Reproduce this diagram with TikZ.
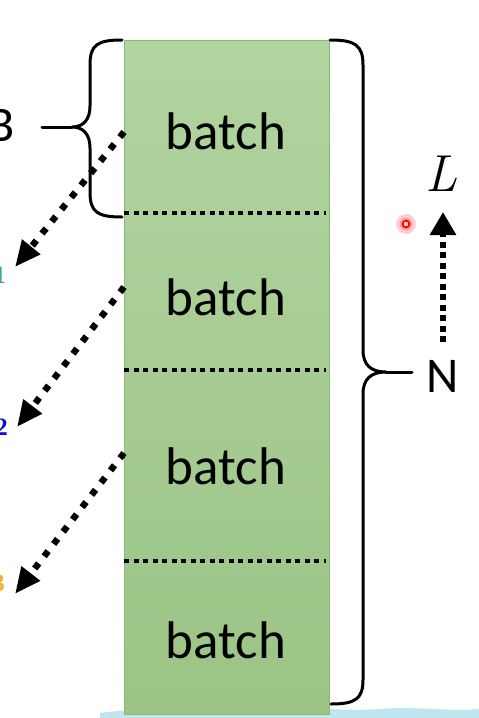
\documentclass[tikz,border=0pt]{standalone}
\usepackage{fontspec}
\newfontfamily\calib{Carlito}
\newfontfamily\serifdig{Liberation Serif}
\usetikzlibrary{arrows.meta}
\definecolor{gtop}{HTML}{B2D4A0}
\definecolor{gbot}{HTML}{9BC486}
\definecolor{gedge}{HTML}{8DBA76}
\definecolor{subone}{HTML}{3FA69A}
\definecolor{subtwo}{HTML}{1010D0}
\definecolor{subthree}{HTML}{F0B432}
\definecolor{wave}{HTML}{BFE6EE}
\tikzset{
  brace/.style={line width=3pt, line cap=round, line join=round},
  divider/.style={line width=4.5pt, dash pattern=on 5pt off 4.5pt},
  dotarrow/.style={line width=6.5pt, dash pattern=on 6.5pt off 9pt, -{Triangle[length=26pt,width=22pt]}},
  uparrow/.style={line width=6.5pt, dash pattern=on 6pt off 4.5pt, -{Triangle[length=23pt,width=25pt]}},
  batchtext/.style={font=\calib\fontsize{53}{60}\selectfont, inner sep=0pt},
  bigtext/.style={font=\calib\fontsize{50}{60}\selectfont, inner sep=0pt},
  subdig/.style={font=\serifdig\bfseries\fontsize{25}{30}\selectfont, inner sep=0pt, anchor=base east},
}
\begin{document}
\begin{tikzpicture}[x=1pt,y=-1pt]
\useasboundingbox (0,0) rectangle (479,718);
\clip (0,0) rectangle (479,718);
\fill[white] (0,0) rectangle (479,718);
% faint wave at the bottom
\fill[wave] (100,718) -- (100,713) .. controls (150,706) and (200,713) .. (250,709) .. controls (300,705) and (340,712) .. (380,709) .. controls (420,706) and (450,712) .. (479,709) -- (479,718) -- cycle;
% the stack
\node (stack) [draw=gedge, line width=0.8pt, top color=gtop, bottom color=gbot, minimum width=205pt, minimum height=674pt, inner sep=0pt] at (226.5,377) {};
\draw[divider] (124,213) -- (326,213);
\draw[divider] (124,370) -- (326,370);
\draw[divider] (124,561) -- (326,561);
\node[batchtext] (b1) at (226,131) {batch};
\node[batchtext] (b2) at (226,297) {batch};
\node[batchtext] (b3) at (226,466) {batch};
\node[batchtext] (b4) at (226,640) {batch};
% left brace and B
\node[bigtext, anchor=east] (B) at (15,125) {B};
\coordinate (lstem) at (42,127);
\coordinate (ltip) at (72,127);
\draw[brace] (122,40) .. controls (97,40) and (90,45) .. (90,65) -- (90,106) .. controls (90,120) and (83,127) .. (ltip) .. controls (83,127) and (90,134) .. (90,148) -- (90,192) .. controls (90,212) and (97,217) .. (122,217);
\draw[brace] (lstem) -- (ltip);
% right brace and N
\node[bigtext] (N) at (443,376) {N};
\coordinate (rtip) at (386,372);
\coordinate (rstem) at (412,372);
\draw[brace] (330,40) .. controls (355,40) and (363,45) .. (363,65) -- (363,350) .. controls (363,365) and (371,372) .. (rtip) .. controls (371,372) and (363,379) .. (363,394) -- (363,680) .. controls (363,699) and (355,704) .. (331,704);
\draw[brace] (rtip) -- (rstem);
% L and vertical arrow
\node[font=\itshape\fontsize{52}{60}\selectfont, inner sep=0pt] (L) at (441,174) {L};
\coordinate (ubot) at (443,342);
\coordinate (utop) at (443,212);
\draw[uparrow] (ubot) -- (utop);
% red pointer dot
\fill[red, opacity=0.18] (406,224) circle (10);
\fill[red, opacity=0.25] (406,224) circle (6.5);
\draw[red, line width=1.8pt, fill=red!15] (406,224) circle (3.4);
% diagonal arrows and subscripts
\node[subdig, text=subone] (s1) at (6,283) {1};
\node[subdig, text=subtwo] (s2) at (8,435) {2};
\node[subdig, text=subthree] (s3) at (5,591) {3};
\coordinate (a1) at (124,132);
\coordinate (a2) at (124,287);
\coordinate (a3) at (124,453);
\coordinate (t1) at (15,267);
\coordinate (t2) at (17,427);
\coordinate (t3) at (15,594);
\draw[dotarrow] (a1) -- (t1);
\draw[dotarrow] (a2) -- (t2);
\draw[dotarrow] (a3) -- (t3);
\end{tikzpicture}
\end{document}
